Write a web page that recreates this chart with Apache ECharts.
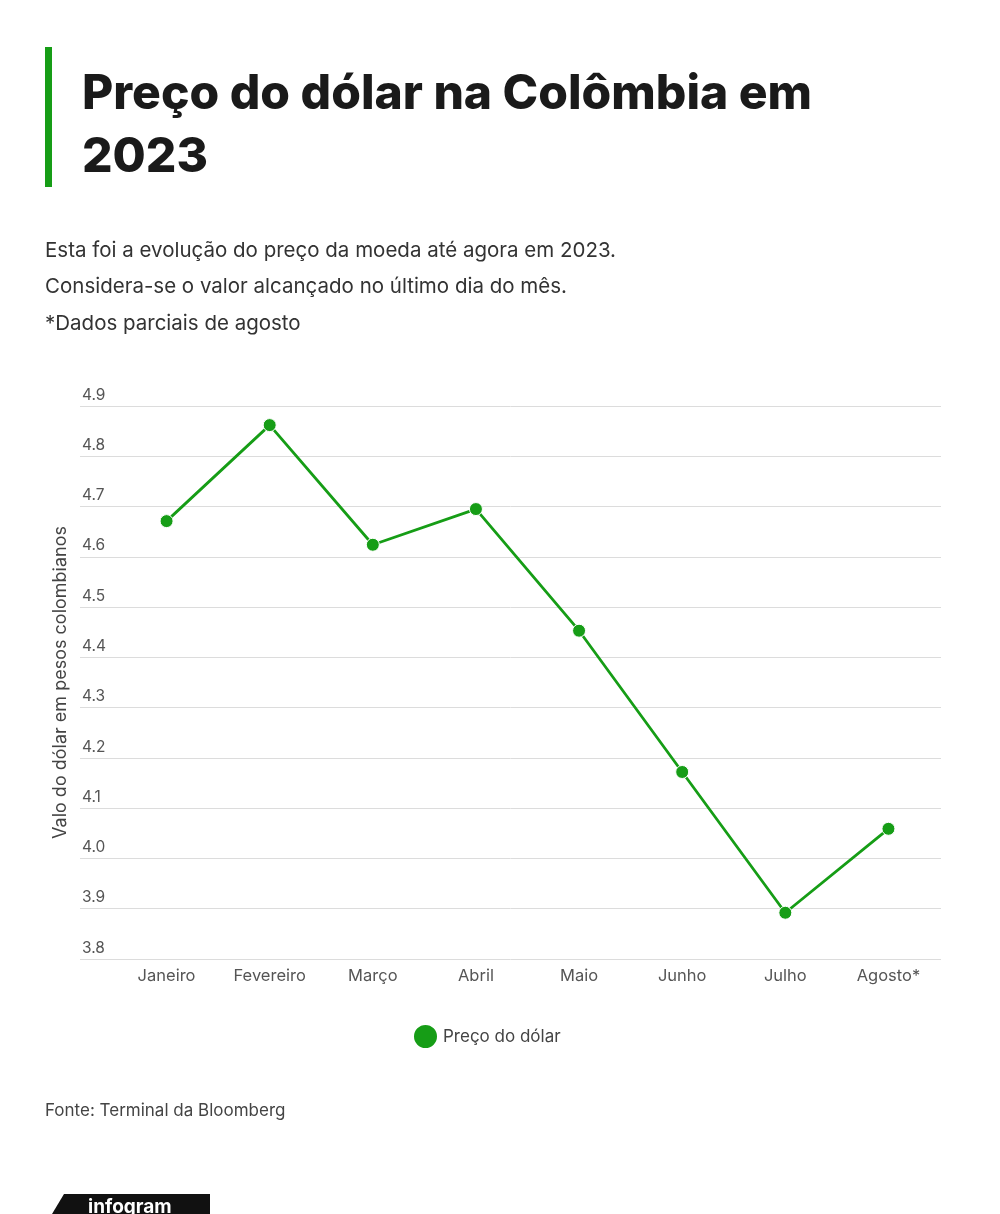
<!DOCTYPE html>
<html>
<head>
<meta charset="utf-8">
<script src="https://cdn.jsdelivr.net/npm/echarts@6/dist/echarts.min.js"></script>
<style>
  html, body { margin: 0; padding: 0; background: #fff; }
  #chart { width: 1000px; height: 1214px; }
</style>
</head>
<body>
<div id="chart"></div>
<script>
// dados
const months = ['Janeiro', 'Fevereiro', 'Março', 'Abril', 'Maio', 'Junho', 'Julho', 'Agosto*'];
const prices = [4.671, 4.862, 4.624, 4.695, 4.453, 4.172, 3.892, 4.059];
const yMin = 3.8;
const yMax = 4.9;

const titleLines = ['Preço do dólar na Colômbia em', '2023'];
const noteLines = [
    'Esta foi a evolução do preço da moeda até agora em 2023.',
    'Considera-se o valor alcançado no último dia do mês.',
    '*Dados parciais de agosto'
];
const seriesName = 'Preço do dólar';
const sourceText = 'Fonte: Terminal da Bloomberg';

const green = '#169d16';
const font = 'Inter, "Liberation Sans", sans-serif';

let myChart = echarts.init(document.getElementById('chart'));

let graphics = [
    { type: 'rect', shape: { x: 45, y: 47, width: 7, height: 140 }, style: { fill: green } }
];
titleLines.forEach(function (t, i) {
    graphics.push({
        type: 'text', left: 82, top: 71 + i * 63,
        style: { text: t, font: '800 48px ' + font, fill: '#1a1a1a' }
    });
});
noteLines.forEach(function (t, i) {
    graphics.push({
        type: 'text', left: 45, top: 240 + i * 36.5,
        style: { text: t, font: '20.5px ' + font, fill: '#333' }
    });
});
graphics.push({
    type: 'text', left: 45, top: 1102,
    style: { text: sourceText, font: '17px ' + font, fill: '#444' }
});
// logo infogram (cortado na base)
graphics.push({
    type: 'polygon',
    shape: { points: [[64, 1194], [210, 1194], [210, 1214], [52, 1214]] },
    style: { fill: '#111' }
});
graphics.push({
    type: 'text', left: 88, top: 1198,
    style: { text: 'infogram', font: 'bold 19px ' + font, fill: '#fff' }
});

let option = {
    backgroundColor: '#fff',
    animation: false,
    graphic: graphics,
    legend: {
        left: 407, top: 1018,
        icon: 'circle',
        itemWidth: 25, itemHeight: 25, itemGap: 10,
        textStyle: { fontFamily: font, fontSize: 17, color: '#444' },
        data: [seriesName]
    },
    grid: [
        { left: 80, right: 59, top: 406, bottom: 255 },
        { left: 115, right: 60, top: 406, bottom: 255 }
    ],
    xAxis: [
        { type: 'value', gridIndex: 0, show: false, min: 0, max: 1 },
        {
            type: 'category', gridIndex: 1, data: months, boundaryGap: true,
            axisLine: { show: false }, axisTick: { show: false },
            axisLabel: { margin: 9, fontFamily: font, fontSize: 16.5, color: '#555' }
        }
    ],
    yAxis: [
        {
            type: 'value', gridIndex: 0, min: yMin, max: yMax, interval: 0.1,
            name: 'Valo do dólar em pesos colombianos',
            nameLocation: 'middle', nameRotate: 90, nameGap: 10,
            nameTextStyle: { fontFamily: font, fontSize: 18, color: '#444' },
            axisLine: { show: false }, axisTick: { show: false },
            axisLabel: {
                inside: true, margin: 2, verticalAlign: 'bottom',
                padding: [0, 0, 3, 0],
                fontFamily: font, fontSize: 15.5, color: '#555',
                formatter: function (v) { return v.toFixed(1); }
            },
            splitLine: { lineStyle: { color: '#dcdcdc', width: 1 } }
        },
        {
            type: 'value', gridIndex: 1, min: yMin, max: yMax, show: false,
            splitLine: { show: false }
        }
    ],
    series: [
        {
            name: seriesName,
            type: 'line',
            xAxisIndex: 1, yAxisIndex: 1,
            data: prices,
            symbol: 'circle', symbolSize: 13,
            lineStyle: { color: green, width: 2.8 },
            itemStyle: { color: green, borderColor: '#fff', borderWidth: 1 }
        }
    ]
};

if (option && typeof option === "object") {
    myChart.setOption(option, true);
}
</script>
</body>
</html>
